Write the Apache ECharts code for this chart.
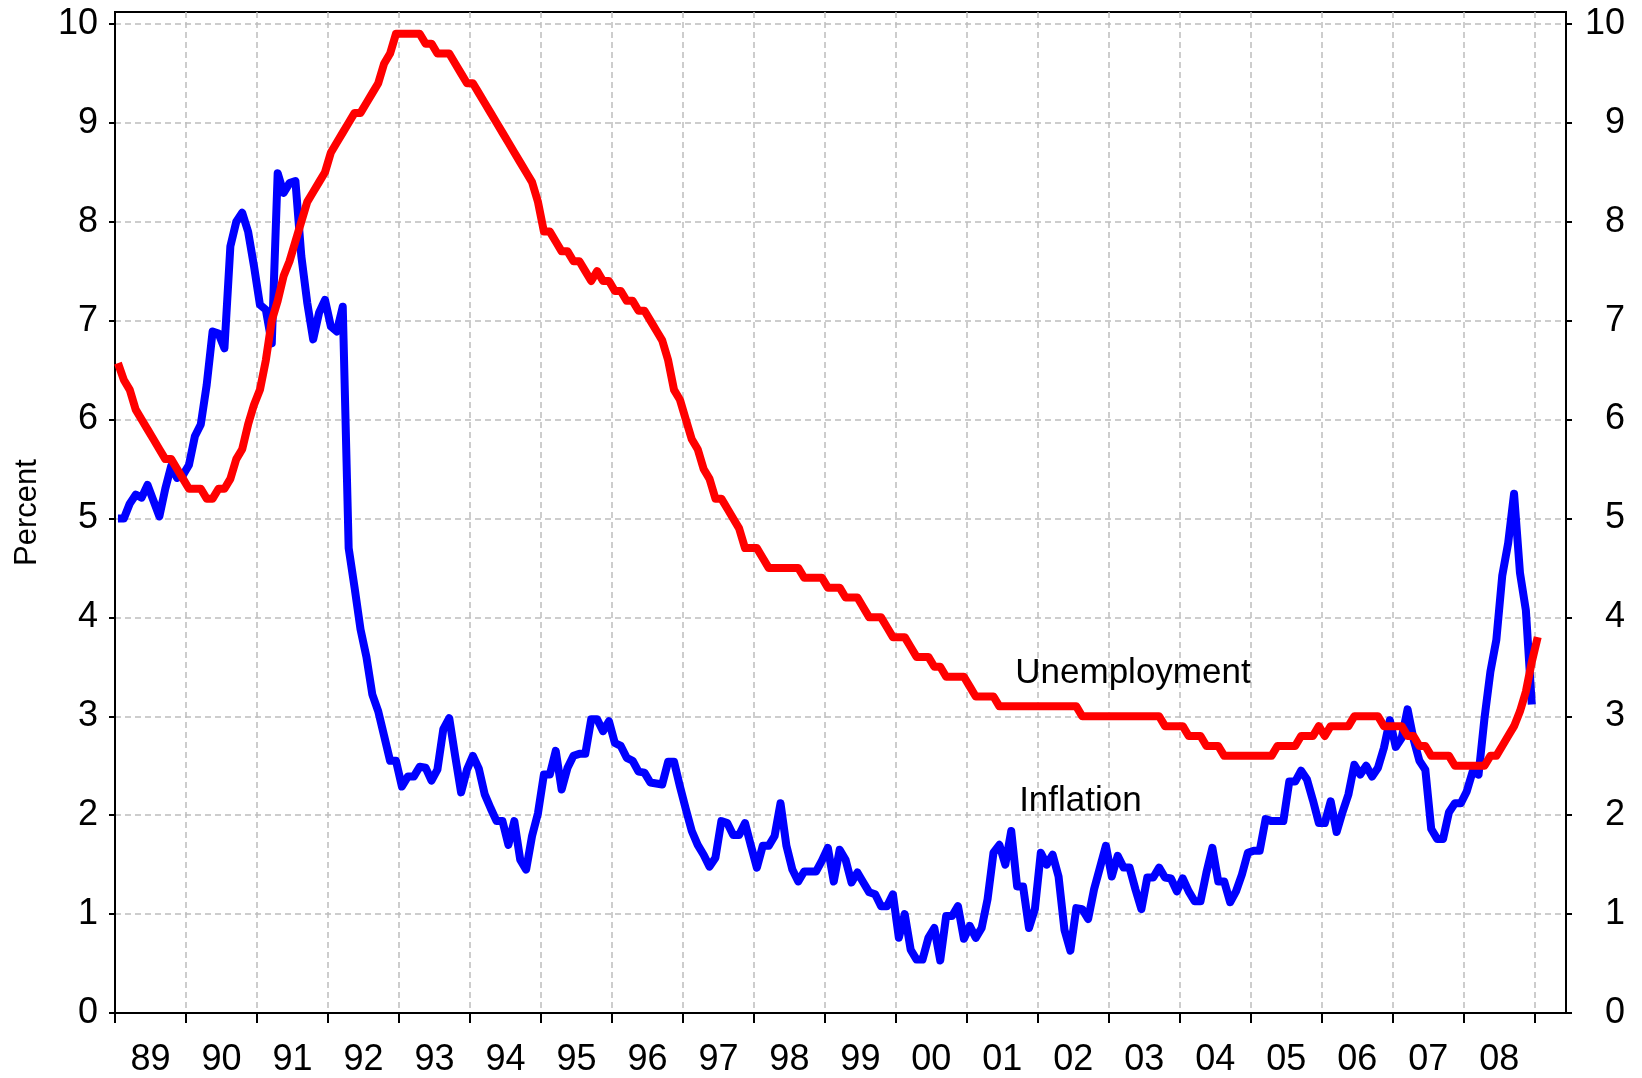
<!DOCTYPE html>
<html>
<head>
<meta charset="utf-8">
<script src="https://cdn.jsdelivr.net/npm/echarts@6/dist/echarts.min.js"></script>
<style>
  html, body { margin: 0; padding: 0; background: #fff; }
  #main { width: 1642px; height: 1078px; }
</style>
</head>
<body>
<div id="main"></div>
<script>
// monthly series, first value = Jan 1989
const startYear = 1989;

const inflation = [
  5.0, 5.0, 5.15, 5.24, 5.21, 5.34, 5.18, 5.02, 5.3, 5.53, 5.41, 5.44,      // 89
  5.54, 5.83, 5.95, 6.35, 6.89, 6.87, 6.72, 7.75, 8.0, 8.09, 7.9, 7.55,     // 90
  7.16, 7.11, 6.77, 8.49, 8.29, 8.39, 8.41, 7.65, 7.18, 6.81, 7.08, 7.21,   // 91
  6.94, 6.89, 7.14, 4.7, 4.3, 3.88, 3.6, 3.22, 3.05, 2.8, 2.55, 2.55,       // 92
  2.29, 2.39, 2.39, 2.49, 2.48, 2.35, 2.46, 2.87, 2.98, 2.6, 2.23, 2.46,    // 93
  2.6, 2.47, 2.21, 2.07, 1.94, 1.94, 1.7, 1.94, 1.55, 1.45, 1.79, 2.02,     // 94
  2.41, 2.41, 2.65, 2.26, 2.48, 2.6, 2.62, 2.62, 2.97, 2.97, 2.85, 2.95,    // 95
  2.73, 2.7, 2.58, 2.55, 2.44, 2.43, 2.33, 2.32, 2.31, 2.54, 2.54, 2.29,    // 96
  2.06, 1.84, 1.7, 1.6, 1.48, 1.57, 1.94, 1.92, 1.8, 1.8, 1.92, 1.69,       // 97
  1.47, 1.69, 1.69, 1.79, 2.12, 1.69, 1.45, 1.33, 1.43, 1.43, 1.43, 1.54,   // 98
  1.67, 1.33, 1.65, 1.55, 1.32, 1.42, 1.32, 1.22, 1.2, 1.08, 1.08, 1.2,     // 99
  0.76, 1.0, 0.64, 0.54, 0.54, 0.76, 0.86, 0.53, 0.98, 0.98, 1.08, 0.75,    // 00
  0.88, 0.76, 0.86, 1.15, 1.62, 1.7, 1.5, 1.84, 1.28, 1.28, 0.86, 1.05,     // 01
  1.62, 1.5, 1.6, 1.38, 0.84, 0.63, 1.06, 1.05, 0.95, 1.25, 1.47, 1.69,     // 02
  1.38, 1.59, 1.47, 1.47, 1.25, 1.05, 1.37, 1.37, 1.47, 1.37, 1.36, 1.23,   // 03
  1.36, 1.23, 1.13, 1.13, 1.42, 1.67, 1.33, 1.33, 1.12, 1.23, 1.4, 1.62,    // 04
  1.64, 1.64, 1.96, 1.94, 1.94, 1.94, 2.34, 2.34, 2.45, 2.36, 2.15, 1.92,   // 05
  1.92, 2.14, 1.83, 2.03, 2.21, 2.51, 2.41, 2.5, 2.39, 2.48, 2.68, 2.96,    // 06
  2.69, 2.78, 3.07, 2.77, 2.55, 2.46, 1.86, 1.76, 1.76, 2.03, 2.12, 2.12,   // 07
  2.24, 2.44, 2.41, 2.98, 3.45, 3.77, 4.42, 4.75, 5.25, 4.45, 4.07, 3.12    // 08
];

const unemployment = [
  6.57, 6.4, 6.3, 6.1, 6.0, 5.9, 5.8, 5.7, 5.6, 5.6, 5.5, 5.4,              // 89
  5.3, 5.3, 5.3, 5.2, 5.2, 5.3, 5.3, 5.4, 5.6, 5.7, 5.95, 6.15,             // 90
  6.3, 6.6, 7.0, 7.2, 7.45, 7.6, 7.8, 8.0, 8.2, 8.3, 8.4, 8.5,              // 91
  8.7, 8.8, 8.9, 9.0, 9.1, 9.1, 9.2, 9.3, 9.4, 9.6, 9.7, 9.9,               // 92
  9.9, 9.9, 9.9, 9.9, 9.8, 9.8, 9.7, 9.7, 9.7, 9.6, 9.5, 9.4,               // 93
  9.4, 9.3, 9.2, 9.1, 9.0, 8.9, 8.8, 8.7, 8.6, 8.5, 8.4, 8.2,               // 94
  7.9, 7.9, 7.8, 7.7, 7.7, 7.6, 7.6, 7.5, 7.4, 7.5, 7.4, 7.4,               // 95
  7.3, 7.3, 7.2, 7.2, 7.1, 7.1, 7.0, 6.9, 6.8, 6.6, 6.3, 6.2,               // 96
  6.0, 5.8, 5.7, 5.5, 5.4, 5.2, 5.2, 5.1, 5.0, 4.9, 4.7, 4.7,               // 97
  4.7, 4.6, 4.5, 4.5, 4.5, 4.5, 4.5, 4.5, 4.4, 4.4, 4.4, 4.4,               // 98
  4.3, 4.3, 4.3, 4.2, 4.2, 4.2, 4.1, 4.0, 4.0, 4.0, 3.9, 3.8,               // 99
  3.8, 3.8, 3.7, 3.6, 3.6, 3.6, 3.5, 3.5, 3.4, 3.4, 3.4, 3.4,               // 00
  3.3, 3.2, 3.2, 3.2, 3.2, 3.1, 3.1, 3.1, 3.1, 3.1, 3.1, 3.1,               // 01
  3.1, 3.1, 3.1, 3.1, 3.1, 3.1, 3.1, 3.0, 3.0, 3.0, 3.0, 3.0,               // 02
  3.0, 3.0, 3.0, 3.0, 3.0, 3.0, 3.0, 3.0, 3.0, 2.9, 2.9, 2.9,               // 03
  2.9, 2.8, 2.8, 2.8, 2.7, 2.7, 2.7, 2.6, 2.6, 2.6, 2.6, 2.6,               // 04
  2.6, 2.6, 2.6, 2.6, 2.7, 2.7, 2.7, 2.7, 2.8, 2.8, 2.8, 2.9,               // 05
  2.8, 2.9, 2.9, 2.9, 2.9, 3.0, 3.0, 3.0, 3.0, 3.0, 2.9, 2.9,               // 06
  2.9, 2.9, 2.8, 2.8, 2.7, 2.7, 2.6, 2.6, 2.6, 2.6, 2.5, 2.5,               // 07
  2.5, 2.5, 2.5, 2.5, 2.6, 2.6, 2.7, 2.8, 2.9, 3.05, 3.25, 3.55,            // 08
  3.8                                                                       // 09
];

const yearTicks = [];
for (let y = 1989; y <= 2009; y++) yearTicks.push(y);
const yearLabels = ['89', '90', '91', '92', '93', '94', '95', '96', '97', '98',
                    '99', '00', '01', '02', '03', '04', '05', '06', '07', '08'];
const yTicks = [0, 1, 2, 3, 4, 5, 6, 7, 8, 9, 10];

const font = "'Liberation Sans', Arial, sans-serif";
const gridLine = { color: '#bdbdbd', width: 1.5, type: [6, 4] };
const axisBlack = { color: '#000', width: 2 };

// month i sits in the middle of its month on the year axis
function toPoints(values) {
  return values.map((v, i) => [startYear + (i + 0.5) / 12, v]);
}

const myChart = echarts.init(document.getElementById('main'));

const yAxisBase = {
  type: 'value',
  min: 0,
  max: 10.12,
  interval: 1,
  axisLine: { show: true, lineStyle: axisBlack },
  axisTick: { show: true, length: 6, customValues: yTicks, lineStyle: axisBlack },
};

const noteLabel = { show: true, position: 'inside', formatter: '{b}', fontSize: 35, color: '#000', fontFamily: font };

const option = {
  animation: false,
  backgroundColor: '#fff',
  grid: {
    left: 115, right: 76, top: 12, bottom: 65,
    show: true, borderColor: '#000', borderWidth: 2, backgroundColor: '#fff'
  },
  xAxis: {
    type: 'value',
    min: 1989,
    max: 2009.44,
    interval: 1,
    axisLine: { show: true, onZero: false, lineStyle: axisBlack },
    axisTick: { show: true, length: 10, customValues: yearTicks, lineStyle: axisBlack },
    axisLabel: {
      customValues: yearTicks.slice(0, -1).map((y) => y + 0.5),
      formatter: (v) => yearLabels[Math.floor(v) - startYear],
      fontSize: 36, color: '#000', fontFamily: font, margin: 29
    },
    splitLine: { show: true, lineStyle: gridLine }
  },
  yAxis: [
    Object.assign({}, yAxisBase, {
      position: 'left',
      name: 'Percent',
      nameLocation: 'middle',
      nameRotate: 90,
      nameGap: 72,
      nameTextStyle: { fontSize: 31, color: '#000', fontFamily: font },
      axisLabel: { customValues: yTicks, fontSize: 36, color: '#000', fontFamily: font, margin: 17 },
      splitLine: { show: true, lineStyle: gridLine }
    }),
    Object.assign({}, yAxisBase, {
      position: 'right',
      axisLabel: { customValues: yTicks, fontSize: 36, color: '#000', fontFamily: font,
                   margin: 59, align: 'right' },
      splitLine: { show: false }
    })
  ],
  series: [
    {
      name: 'Inflation',
      type: 'line',
      data: toPoints(inflation),
      showSymbol: false,
      lineStyle: { color: '#0000ff', width: 8, join: 'round' },
      markPoint: {
        symbol: 'circle', symbolSize: 0,
        label: noteLabel,
        data: [{ name: 'Inflation', coord: [2002.6, 2.14] }]
      }
    },
    {
      name: 'Unemployment',
      type: 'line',
      data: toPoints(unemployment),
      showSymbol: false,
      lineStyle: { color: '#ff0000', width: 8, join: 'round' },
      markPoint: {
        symbol: 'circle', symbolSize: 0,
        label: noteLabel,
        data: [{ name: 'Unemployment', coord: [2003.34, 3.43] }]
      }
    }
  ]
};

myChart.setOption(option);
</script>
</body>
</html>
